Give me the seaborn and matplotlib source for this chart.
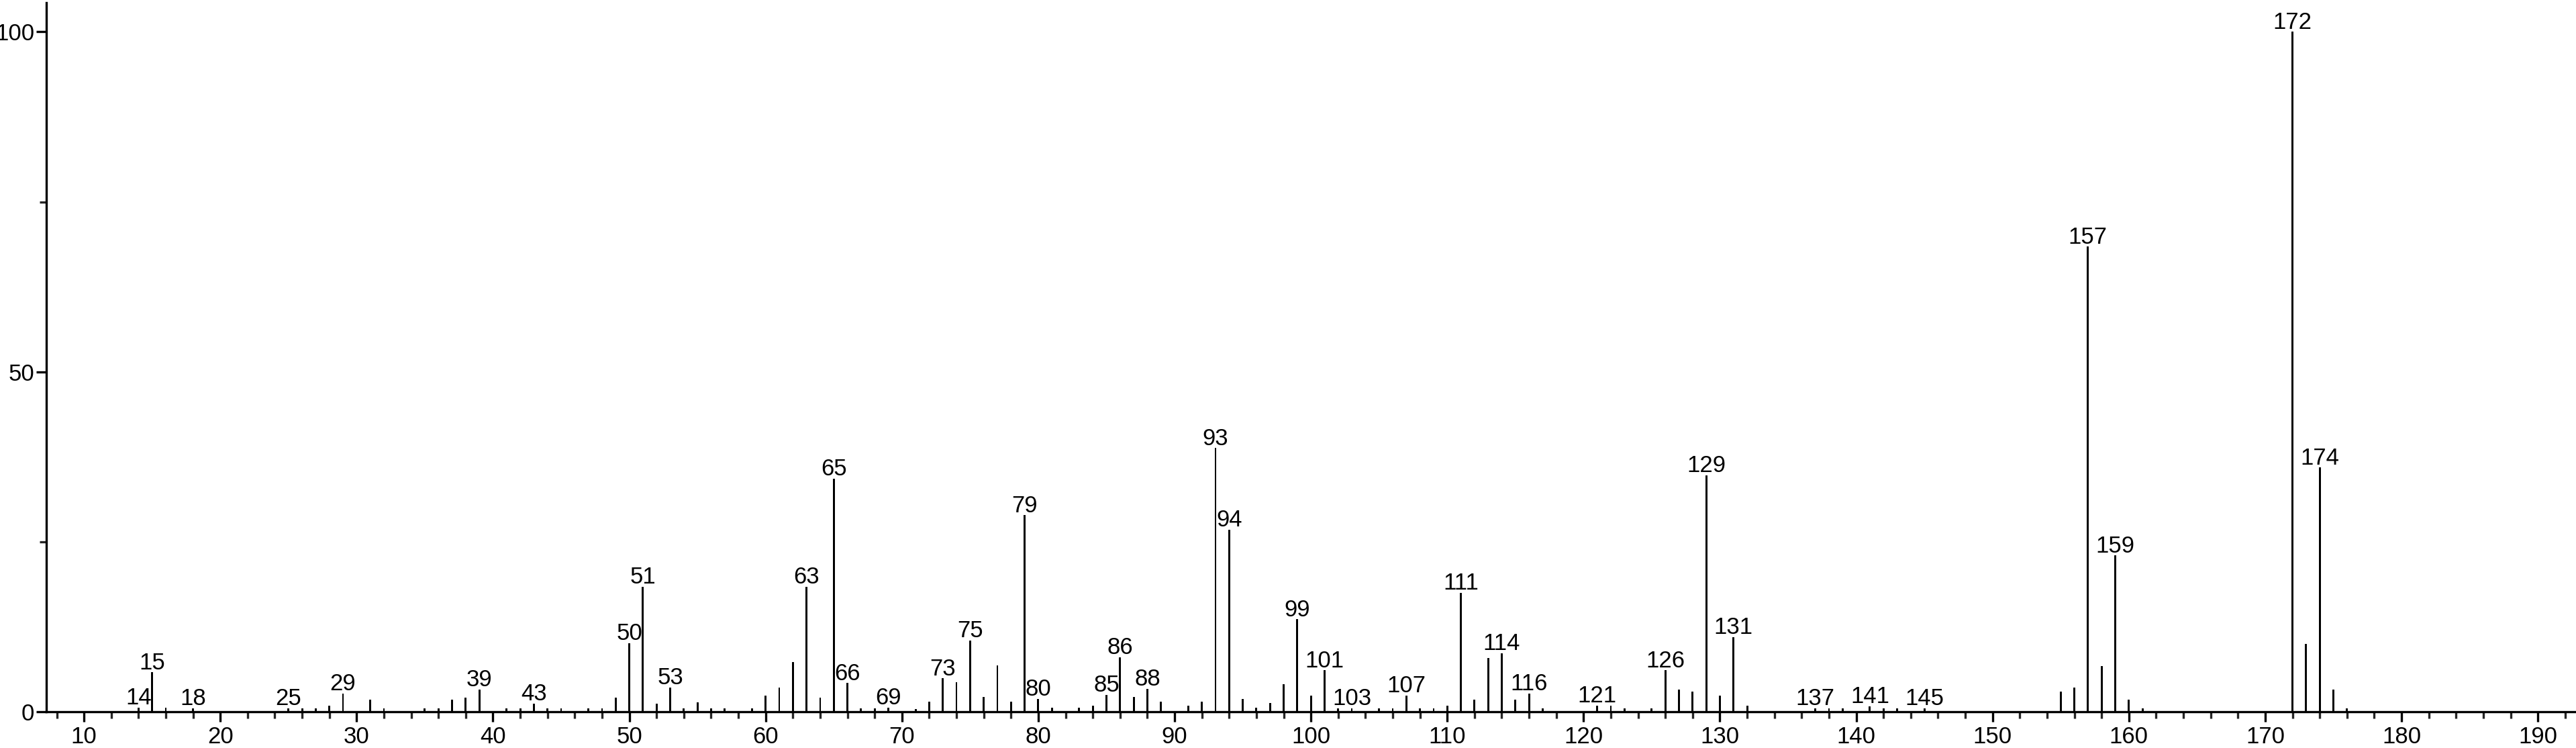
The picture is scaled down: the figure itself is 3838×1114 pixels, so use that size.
import matplotlib
matplotlib.use("Agg")
import matplotlib.pyplot as plt
import numpy as np
import pandas as pd
import seaborn as sns
from matplotlib.ticker import MultipleLocator

# m/z values and relative intensities
mz = [14, 15, 16, 18, 25, 26, 27, 28, 29, 31, 32, 35, 36, 37, 38, 39,
      41, 42, 43, 44, 45, 47, 48, 49, 50, 51, 52, 53, 54, 55, 56, 57,
      59, 60, 61, 62, 63, 64, 65, 66, 67, 68, 69, 71, 72, 73, 74, 75,
      76, 77, 78, 79, 80, 81, 83, 84, 85, 86, 87, 88, 89, 91, 92, 93,
      94, 95, 96, 97, 98, 99, 100, 101, 102, 103, 105, 106, 107, 108,
      109, 110, 111, 112, 113, 114, 115, 116, 117, 121, 122, 123, 125,
      126, 127, 128, 129, 130, 131, 132, 137, 138, 139, 141, 142, 143,
      145, 155, 156, 157, 158, 159, 160, 161, 172, 173, 174, 175, 176]
intensity = [0.6, 5.8, 0.6, 0.5, 0.5, 0.5, 0.5, 0.9, 2.7, 1.8, 0.5, 0.5,
             0.5, 1.8, 2.1, 3.3, 0.5, 0.5, 1.2, 0.5, 0.5, 0.5, 0.5, 2.1,
             10.1, 18.4, 1.2, 3.6, 0.5, 1.4, 0.5, 0.5, 0.5, 2.4, 3.6, 7.3,
             18.4, 2.1, 34.3, 4.2, 0.5, 0.5, 0.6, 0.4, 1.5, 4.9, 4.3, 10.5,
             2.2, 6.8, 1.5, 28.9, 1.9, 0.6, 0.6, 0.9, 2.5, 8.0, 2.2, 3.4,
             1.5, 0.9, 1.5, 38.8, 26.8, 1.9, 0.6, 1.25, 4.0, 13.6, 2.4, 6.1,
             0.5, 0.5, 0.5, 0.5, 2.4, 0.5, 0.5, 0.9, 17.5, 1.8, 7.9, 8.6,
             1.8, 2.7, 0.5, 0.9, 0.9, 0.5, 0.5, 6.1, 3.3, 3.0, 34.8, 2.4,
             11.0, 0.9, 0.5, 0.5, 0.5, 0.8, 0.5, 0.5, 0.5, 3.0, 3.6, 68.4,
             6.7, 23.0, 1.8, 0.5, 100.0, 10.0, 35.9, 3.3, 0.5]

# peaks that carry an m/z label
labelled = [14, 15, 18, 25, 29, 39, 43, 50, 51, 53, 63, 65, 66, 69, 73, 75,
            79, 80, 85, 86, 88, 93, 94, 99, 101, 103, 107, 111, 114, 116,
            121, 126, 129, 131, 137, 141, 145, 157, 159, 172, 174]

df = pd.DataFrame({"mz": mz, "intensity": intensity})

sns.set_style("ticks")
plt.rcParams["font.family"] = ["Liberation Sans", "DejaVu Sans"]

fig = plt.figure(figsize=(38.38, 11.14), dpi=100)
ax = fig.add_axes([0.018, 0.0485, 0.982, 0.948])

sns.barplot(data=df, x="mz", y="intensity", native_scale=True, orient="x",
            color="black", width=0.14, linewidth=0, errorbar=None, ax=ax)

lookup = dict(zip(mz, intensity))
for m in labelled:
    ax.text(m, lookup[m] + 0.45, str(m), ha="center", va="baseline",
            fontsize=25, color="black")

ax.set_xlim(7.24, 192.8)
ax.set_ylim(0, 104.3)
ax.xaxis.set_major_locator(MultipleLocator(10))
ax.xaxis.set_minor_locator(MultipleLocator(2))
ax.set_yticks([0, 50, 100])
ax.set_yticks([25, 75], minor=True)
ax.set_xlabel("")
ax.set_ylabel("")

sns.despine(ax=ax)
for side in ["left", "bottom"]:
    ax.spines[side].set_linewidth(2.4)
    ax.spines[side].set_color("black")
ax.tick_params(which="major", direction="out", length=11, width=2.4,
               labelsize=25, colors="black", pad=4)
ax.tick_params(which="minor", direction="out", length=7, width=2.4)
ax.tick_params(axis="y", pad=2)

fig.savefig("out.png", dpi=100)
